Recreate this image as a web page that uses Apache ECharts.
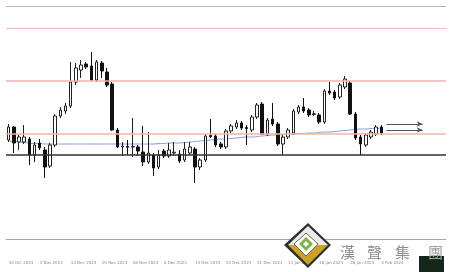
<!DOCTYPE html>
<html><head><meta charset="utf-8">
<script src="https://cdn.jsdelivr.net/npm/echarts@6/dist/echarts.min.js"></script>
<style>html,body{margin:0;padding:0;background:#fff}#c{width:449px;height:272px}</style>
</head><body><div id="c"></div>
<script>
// tick labels (one every 6 candles)
const tickLabels = ["30 Oct 2023","3 Nov 2023","13 Nov 2023","19 Nov 2023","28 Nov 2023","6 Dec 2023","14 Dec 2023","22 Dec 2023","31 Dec 2023","11 Jan 2024","18 Jan 2024","26 Jan 2024","3 Feb 2024"];
const slotCount = 85; // candle slots incl. empty right margin
const categories = Array.from({length: slotCount}, (_, i) => String(i));
// candles: [open, close, low, high]
const candles = [
 [99,112,97,115],[112,96,86,113],[97,102,89,104],[97,102,95,114],[100,84,74,102],
 [84,94,77,97],[96,91,89,100],[89,72,61,92],[73,94,71,96],[94,123,92,125],
 [123,129,121,132],[128,133,125,136],[133,157,131,177],[157,171,154,176],[169,174,161,179],
 [175,172,170,177],[173,159,158,187],[159,177,157,179],[176,168,161,178],[167,154,152,171],
 [155,109,108,157],[109,92,91,111],[92,92.8,83,97],[92.5,91.7,84,99],[92,92.6,82,121],
 [92,88,83,94],[87,77,73,113],[77,86,75,107],[84,71,63,86],[72,84,70,89],
 [88,83,81,90],[83,89,81,96],[86,86.8,83,97],[85,78,76,89],[79,90,77,97],
 [86,92,84,97],[90,72,56,92],[72,79,69,81],[79,103,77,105],[103.5,102.5,101,120],
 [103,94,92,105],[95,92,90,97],[92,108,90,110],[108,113,106,115],[112,116,110,119],
 [116,111,109,118],[111.5,110.5,94,114],[109,122,107,124],[122,134,120,136],[135,105,104,137],
 [105,119,103,121],[120,115,113,136],[115,95,93,117],[95,102,84,104],[102,109,100,111],
 [106,128,104,130],[127,132,125,134],[132,128,126,141],[129,124,122,131],[124.5,125.3,123,128],
 [124,117,115,126],[117,148,115,150],[148,146,144,157],[147,141,139,149],[142,154,140,156],
 [152,160,150,163],[156,125,124,158],[125,101,99,127],[102,95,84,104],[94,104,92,106],
 [102,107,100,109],[105,112,103,114],[112,106,104,114]
];
// moving average
const maValues = [98,97.5,97,96.5,96,95.5,95.5,95,95,95,95,95,95,95,95,95,95,95,95,95,95,95,95,95,95,95,95,95,95,95.5,95.5,96,96,96,96.5,97,97.5,98,98.5,99,99.5,100,100,100.5,101,101.5,102,102,102.5,103,103.5,104,104,104.5,105,105,105.5,105.5,106,106,106.5,107,107,107.5,108,108.5,109,109.5,110,110,110.5,110.5,111];
// horizontal levels
const levels = [
 {v: 233, c: '#b4b4b4', w: 1},
 {v: 211, c: '#f0bcbc', w: 1},
 {v: 158, c: '#f2b0b0', w: 1.5},
 {v: 105, c: '#f3b6a6', w: 1.5},
 {v: 84,  c: '#333333', w: 1.5}
];
const arrowLevels = [115, 109];
const arrowRange = [73, 80];

const levelSeries = levels.map(l => ({
  type: 'line', data: [], silent: true,
  markLine: {
    silent: true, symbol: ['none', 'none'], label: {show: false}, animation: false,
    lineStyle: {color: l.c, width: l.w, type: 'solid', opacity: 1},
    emphasis: {disabled: true},
    data: [{yAxis: l.v}]
  }
}));

const chart = echarts.init(document.getElementById('c'), null, {renderer: 'canvas'});
chart.setOption({
  animation: false,
  backgroundColor: '#fff',
  grid: {left: 6, right: 3, top: 6, bottom: 33},
  xAxis: {
    type: 'category', data: categories, boundaryGap: true,
    axisLine: {show: true, lineStyle: {color: '#a8a8a8', width: 1}},
    axisTick: {show: false},
    splitLine: {show: false},
    axisLabel: {
      interval: 0, margin: 22, align: 'left', fontSize: 4, color: '#888',
      fontFamily: 'DejaVu Sans',
      formatter: (v, idx) => (idx % 6 === 0 && tickLabels[idx / 6]) ? tickLabels[idx / 6] : ''
    }
  },
  yAxis: {type: 'value', min: 0, max: 233, show: false, splitLine: {show: false}},
  series: levelSeries.concat([
    {
      type: 'candlestick', data: candles, barWidth: 3,
      itemStyle: {color: '#ffffff', color0: '#111111', borderColor: '#222222', borderColor0: '#111111', borderWidth: 1},
      markLine: {
        silent: true, symbol: ['none', 'arrow'], symbolSize: [4, 6], label: {show: false}, animation: false,
        lineStyle: {color: '#555', width: 1, type: 'solid'},
        data: arrowLevels.map(a => [{coord: [arrowRange[0], a]}, {coord: [arrowRange[1], a]}])
      }
    },
    {
      type: 'line', data: maValues, symbol: 'none', smooth: true,
      lineStyle: {color: '#8796d6', width: 1}, z: 1
    }
  ]),
  graphic: [
    {type: 'polygon', z: 100, shape: {points: [[308,223],[331,245],[308,268],[284,245]]}, style: {fill: '#2e2e2e'}},
    {type: 'polygon', z: 101, shape: {points: [[308,226],[328,245],[288,245]]}, style: {fill: '#ececec'}},
    {type: 'polygon', z: 101, shape: {points: [[288,245],[328,245],[308,265]]}, style: {fill: '#c9a227'}},
    {type: 'polygon', z: 102, shape: {points: [[306,233],[318,244],[306,256],[294,244]]}, style: {fill: '#ffffff', stroke: '#666', lineWidth: 1}},
    {type: 'polygon', z: 103, shape: {points: [[306,237],[313,244],[306,251],[299,244]]}, style: {fill: '#7cb342'}},
    {type: 'polygon', z: 104, shape: {points: [[306,241],[309,244],[306,247],[303,244]]}, style: {fill: '#ffffff'}},
    {type: 'rect', z: 100, shape: {x: 419, y: 256, width: 25, height: 16}, style: {fill: '#16261a'}},
    {type: 'text', z: 105, left: 340, top: 245, style: {text: '漢', font: '15px "Noto Sans CJK TC"', fill: '#8e8e8e'}},
    {type: 'text', z: 105, left: 367, top: 245, style: {text: '聲', font: '15px "Noto Sans CJK TC"', fill: '#8e8e8e'}},
    {type: 'text', z: 105, left: 395, top: 245, style: {text: '集', font: '15px "Noto Sans CJK TC"', fill: '#8e8e8e'}},
    {type: 'text', z: 105, left: 428, top: 245, style: {text: '團', font: '15px "Noto Sans CJK TC"', fill: '#9aa09a'}}
  ]
});
</script></body></html>
